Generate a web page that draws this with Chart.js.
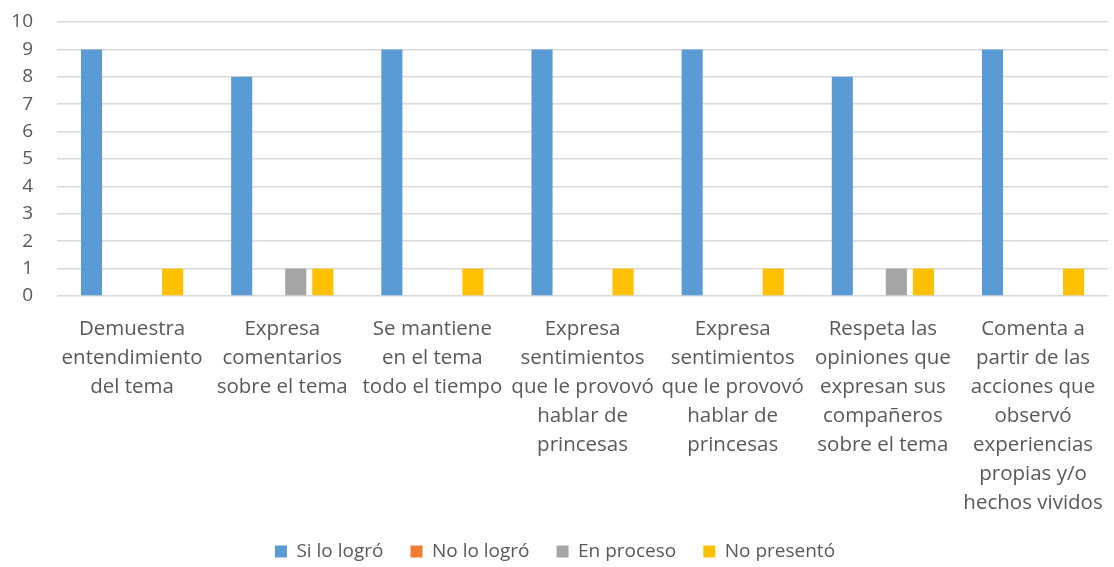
<!DOCTYPE html>
<html lang="es">
<head>
    <meta charset="UTF-8">
    <title>Resultados</title>
    <style>
        html, body { margin: 0; padding: 0; background: #fff; }
        #wrap { width: 1114px; height: 567px; }
    </style>
</head>
<body>
    <div id="wrap"><canvas id="chart"></canvas></div>

    <script src="https://cdn.jsdelivr.net/npm/chart.js"></script>
    <script>
        const categories = [
            ['Demuestra', 'entendimiento', 'del tema'],
            ['Expresa', 'comentarios', 'sobre el tema'],
            ['Se mantiene', 'en el tema', 'todo el tiempo'],
            ['Expresa', 'sentimientos', 'que le provovó', 'hablar de', 'princesas'],
            ['Expresa', 'sentimientos', 'que le provovó', 'hablar de', 'princesas'],
            ['Respeta las', 'opiniones que', 'expresan sus', 'compañeros', 'sobre el tema'],
            ['Comenta a', 'partir de las', 'acciones que', 'observó', 'experiencias', 'propias y/o', 'hechos vividos']
        ];
        const siLoLogro = [9, 8, 9, 9, 9, 8, 9];
        const noLoLogro = [0, 0, 0, 0, 0, 0, 0];
        const enProceso = [0, 1, 0, 0, 0, 1, 0];
        const noPresento = [1, 1, 1, 1, 1, 1, 1];

        const font = "'Open Sans', 'Liberation Sans', sans-serif";
        const textColor = '#595959';

        const makeSet = (label, data, color) => ({
            label: label,
            data: data,
            backgroundColor: color,
            borderWidth: 0,
            categoryPercentage: 0.72,
            barPercentage: 0.78,
        });

        new Chart(document.getElementById('chart').getContext('2d'), {
            type: 'bar',
            data: {
                labels: categories,
                datasets: [
                    makeSet('Si lo logró', siLoLogro, '#5B9BD5'),
                    makeSet('No lo logró', noLoLogro, '#ED7D31'),
                    makeSet('En proceso', enProceso, '#A5A5A5'),
                    makeSet('No presentó', noPresento, '#FFC000'),
                ],
            },
            options: {
                responsive: true,
                maintainAspectRatio: false,
                animation: false,
                // legend padding is wide for item spacing, so the bottom goes negative
                layout: { padding: { top: 22, right: 4, left: 0, bottom: -4 } },
                plugins: {
                    tooltip: { enabled: false },
                    legend: {
                        position: 'bottom',
                        labels: {
                            font: { family: font, size: 19 },
                            color: textColor,
                            boxWidth: 12,
                            boxHeight: 12,
                            padding: 27,
                        },
                    },
                },
                scales: {
                    x: {
                        grid: { display: false },
                        border: { display: false },
                        ticks: {
                            font: { family: font, size: 20.5, lineHeight: 1.415 },
                            color: textColor,
                            maxRotation: 0,
                            autoSkip: false,
                            padding: 11,
                        },
                        afterFit: (scale) => { scale.height = 219; },
                    },
                    y: {
                        min: 0,
                        max: 10,
                        grid: { color: '#D9D9D9', lineWidth: 1.5, drawTicks: false },
                        border: { display: false },
                        ticks: {
                            stepSize: 1,
                            autoSkip: false,
                            font: { family: font, size: 19 },
                            color: textColor,
                            padding: 24,
                        },
                        afterFit: (scale) => {
                            scale.width = 57;
                            scale.paddingTop = 0;
                            scale.paddingBottom = 0;
                        },
                    },
                },
            },
        });
    </script>
</body>
</html>
